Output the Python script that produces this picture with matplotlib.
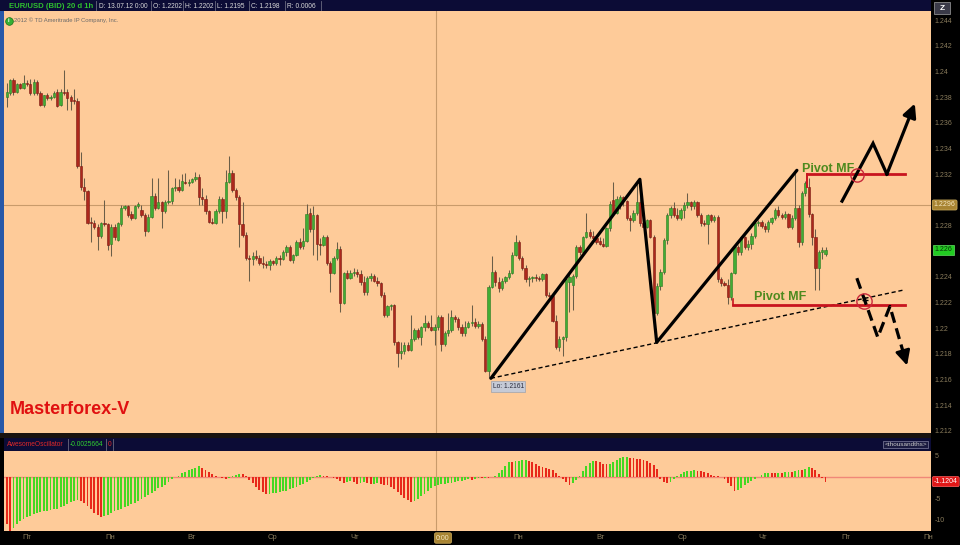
import matplotlib
matplotlib.use('Agg')
import matplotlib.pyplot as plt
import numpy as np
from matplotlib.patches import Rectangle
from matplotlib.lines import Line2D

plt.rcParams['font.family'] = ['Liberation Sans', 'DejaVu Sans']

# ---------------- data (EUR/USD 1h candles) ----------------
opens = [1.2380,1.2383,1.2393,1.2384,1.2390,1.2387,1.2391,1.2390,1.2383,1.2392,
         1.2383,1.2374,1.2382,1.2379,1.2380,1.2384,1.2374,1.2384,1.2384,1.2380,
         1.2378,1.2377,1.2326,1.2310,1.2307,1.2283,1.2282,1.2279,1.2272,1.2282,
         1.2281,1.2266,1.2279,1.2269,1.2281,1.2294,1.2295,1.2289,1.2286,1.2295,
         1.2292,1.2288,1.2276,1.2287,1.2303,1.2294,1.2298,1.2291,1.2298,1.2299,
         1.2309,1.2310,1.2308,1.2314,1.2313,1.2314,1.2316,1.2318,1.2302,1.2301,
         1.2291,1.2283,1.2282,1.2291,1.2301,1.2291,1.2314,1.2321,1.2308,1.2302,
         1.2281,1.2273,1.2255,1.2254,1.2256,1.2255,1.2251,1.2250,1.2249,1.2252,
         1.2251,1.2255,1.2254,1.2259,1.2263,1.2253,1.2257,1.2267,1.2264,1.2268,
         1.2290,1.2277,1.2288,1.2266,1.2265,1.2271,1.2251,1.2243,1.2255,1.2262,
         1.2220,1.2243,1.2239,1.2243,1.2244,1.2242,1.2236,1.2228,1.2239,1.2241,
         1.2237,1.2235,1.2226,1.2210,1.2217,1.2218,1.2189,1.2181,1.2182,1.2187,
         1.2183,1.2192,1.2199,1.2193,1.2201,1.2204,1.2201,1.2199,1.2201,1.2209,
         1.2188,1.2196,1.2199,1.2209,1.2207,1.2201,1.2196,1.2201,1.2204,1.2205,
         1.2202,1.2203,1.2192,1.2167,1.2232,1.2244,1.2236,1.2231,1.2237,1.2240,
         1.2243,1.2257,1.2267,1.2255,1.2247,1.2238,1.2239,1.2240,1.2239,1.2238,
         1.2242,1.2226,1.2225,1.2206,1.2185,1.2192,1.2193,1.2236,1.2234,1.2241,
         1.2263,1.2259,1.2271,1.2275,1.2272,1.2270,1.2268,1.2266,1.2264,1.2278,
         1.2300,1.2290,1.2296,1.2302,1.2299,1.2286,1.2284,1.2290,1.2298,1.2282,
         1.2279,1.2284,1.2271,1.2212,1.2233,1.2244,1.2269,1.2288,1.2294,1.2288,
         1.2286,1.2292,1.2296,1.2298,1.2295,1.2298,1.2288,1.2282,1.2281,1.2288,
         1.2284,1.2287,1.2238,1.2235,1.2234,1.2224,1.2243,1.2263,1.2259,1.2271,
         1.2263,1.2266,1.2272,1.2282,1.2283,1.2280,1.2277,1.2283,1.2286,1.2292,
         1.2288,1.2287,1.2289,1.2279,1.2286,1.2294,1.2267,1.2305,1.2310,1.2289,
         1.2271,1.2247,1.2259,1.2258]
highs = [1.2391,1.2394,1.2395,1.2391,1.2391,1.2397,1.2393,1.2394,1.2394,1.2393,
         1.2385,1.2382,1.2383,1.2382,1.2385,1.2386,1.2386,1.2401,1.2386,1.2382,
         1.2386,1.2379,1.2337,1.2317,1.2308,1.2287,1.2284,1.2281,1.2283,1.2300,
         1.2282,1.2281,1.2281,1.2283,1.2296,1.2296,1.2296,1.2291,1.2296,1.2298,
         1.2296,1.2290,1.2289,1.2317,1.2305,1.2317,1.2299,1.2300,1.2323,1.2310,
         1.2317,1.2316,1.2320,1.2321,1.2316,1.2317,1.2322,1.2320,1.2309,1.2304,
         1.2292,1.2286,1.2293,1.2303,1.2302,1.2323,1.2334,1.2323,1.2309,1.2304,
         1.2298,1.2275,1.2257,1.2259,1.2261,1.2257,1.2256,1.2252,1.2254,1.2253,
         1.2256,1.2257,1.2261,1.2265,1.2265,1.2258,1.2269,1.2270,1.2278,1.2297,
         1.2294,1.2295,1.2289,1.2270,1.2273,1.2273,1.2252,1.2256,1.2267,1.2264,
         1.2244,1.2245,1.2245,1.2247,1.2246,1.2245,1.2241,1.2241,1.2243,1.2242,
         1.2240,1.2236,1.2228,1.2218,1.2219,1.2219,1.2190,1.2189,1.2189,1.2189,
         1.2210,1.2200,1.2200,1.2202,1.2210,1.2206,1.2210,1.2203,1.2210,1.2210,
         1.2198,1.2212,1.2214,1.2210,1.2209,1.2203,1.2206,1.2206,1.2218,1.2208,
         1.2206,1.2205,1.2194,1.2234,1.2256,1.2245,1.2240,1.2239,1.2241,1.2245,
         1.2259,1.2273,1.2269,1.2256,1.2249,1.2241,1.2241,1.2242,1.2241,1.2243,
         1.2243,1.2228,1.2227,1.2210,1.2194,1.2194,1.2240,1.2243,1.2242,1.2265,
         1.2265,1.2272,1.2290,1.2277,1.2276,1.2272,1.2271,1.2270,1.2279,1.2299,
         1.2314,1.2303,1.2304,1.2303,1.2300,1.2288,1.2292,1.2315,1.2309,1.2285,
         1.2285,1.2285,1.2273,1.2235,1.2246,1.2270,1.2290,1.2295,1.2298,1.2294,
         1.2294,1.2298,1.2305,1.2299,1.2300,1.2299,1.2290,1.2284,1.2289,1.2289,
         1.2288,1.2288,1.2240,1.2237,1.2238,1.2244,1.2265,1.2265,1.2272,1.2272,
         1.2269,1.2274,1.2284,1.2284,1.2284,1.2282,1.2284,1.2287,1.2294,1.2295,
         1.2290,1.2291,1.2290,1.2288,1.2321,1.2296,1.2307,1.2315,1.2317,1.2290,
         1.2277,1.2261,1.2263,1.2263]
lows = [1.2372,1.2382,1.2382,1.2383,1.2386,1.2386,1.2389,1.2382,1.2382,1.2382,
        1.2373,1.2372,1.2378,1.2378,1.2379,1.2372,1.2373,1.2382,1.2370,1.2370,
        1.2375,1.2325,1.2308,1.2300,1.2281,1.2267,1.2277,1.2261,1.2270,1.2280,
        1.2261,1.2256,1.2269,1.2268,1.2280,1.2292,1.2287,1.2284,1.2285,1.2294,
        1.2287,1.2272,1.2275,1.2286,1.2292,1.2293,1.2278,1.2290,1.2297,1.2297,
        1.2307,1.2306,1.2307,1.2312,1.2311,1.2313,1.2315,1.2296,1.2296,1.2289,
        1.2282,1.2281,1.2281,1.2290,1.2282,1.2286,1.2313,1.2306,1.2300,1.2263,
        1.2271,1.2253,1.2237,1.2249,1.2253,1.2249,1.2247,1.2247,1.2245,1.2249,
        1.2249,1.2249,1.2253,1.2256,1.2252,1.2251,1.2256,1.2262,1.2262,1.2267,
        1.2275,1.2257,1.2253,1.2257,1.2264,1.2249,1.2228,1.2242,1.2253,1.2213,
        1.2219,1.2238,1.2238,1.2241,1.2240,1.2234,1.2226,1.2226,1.2237,1.2236,
        1.2233,1.2224,1.2209,1.2209,1.2214,1.2187,1.2170,1.2176,1.2180,1.2182,
        1.2182,1.2190,1.2192,1.2187,1.2198,1.2200,1.2198,1.2187,1.2199,1.2182,
        1.2186,1.2194,1.2197,1.2205,1.2199,1.2194,1.2194,1.2200,1.2202,1.2200,
        1.2200,1.2190,1.2166,1.2161,1.2231,1.2233,1.2228,1.2230,1.2235,1.2238,
        1.2242,1.2256,1.2253,1.2245,1.2236,1.2233,1.2236,1.2237,1.2237,1.2237,
        1.2224,1.2224,1.2205,1.2184,1.2182,1.2178,1.2190,1.2213,1.2214,1.2239,
        1.2257,1.2257,1.2270,1.2270,1.2269,1.2266,1.2265,1.2263,1.2263,1.2276,
        1.2288,1.2289,1.2293,1.2295,1.2284,1.2276,1.2283,1.2288,1.2280,1.2278,
        1.2278,1.2270,1.2210,1.2210,1.2230,1.2242,1.2266,1.2286,1.2287,1.2284,
        1.2284,1.2286,1.2294,1.2292,1.2293,1.2287,1.2280,1.2280,1.2266,1.2283,
        1.2283,1.2236,1.2233,1.2233,1.2219,1.2222,1.2242,1.2257,1.2257,1.2262,
        1.2261,1.2262,1.2270,1.2280,1.2278,1.2275,1.2275,1.2281,1.2284,1.2287,
        1.2285,1.2285,1.2278,1.2277,1.2284,1.2263,1.2265,1.2303,1.2287,1.2265,
        1.2230,1.2230,1.2254,1.2256]
closes = [1.2384,1.2393,1.2384,1.2390,1.2387,1.2391,1.2390,1.2383,1.2392,1.2383,
          1.2374,1.2382,1.2379,1.2380,1.2383,1.2373,1.2384,1.2383,1.2379,1.2377,
          1.2377,1.2326,1.2310,1.2307,1.2282,1.2282,1.2279,1.2272,1.2282,1.2281,
          1.2265,1.2279,1.2271,1.2282,1.2294,1.2295,1.2288,1.2286,1.2295,1.2297,
          1.2288,1.2276,1.2287,1.2303,1.2294,1.2298,1.2291,1.2298,1.2299,1.2309,
          1.2310,1.2308,1.2315,1.2313,1.2314,1.2316,1.2318,1.2302,1.2301,1.2291,
          1.2283,1.2282,1.2291,1.2301,1.2291,1.2314,1.2321,1.2308,1.2302,1.2281,
          1.2273,1.2255,1.2254,1.2256,1.2255,1.2251,1.2250,1.2249,1.2252,1.2251,
          1.2255,1.2254,1.2259,1.2263,1.2253,1.2257,1.2267,1.2263,1.2268,1.2289,
          1.2277,1.2288,1.2266,1.2265,1.2271,1.2251,1.2243,1.2255,1.2262,1.2220,
          1.2243,1.2239,1.2243,1.2244,1.2242,1.2236,1.2228,1.2239,1.2241,1.2237,
          1.2235,1.2226,1.2210,1.2217,1.2218,1.2189,1.2181,1.2182,1.2187,1.2183,
          1.2192,1.2199,1.2193,1.2201,1.2204,1.2201,1.2199,1.2201,1.2209,1.2188,
          1.2196,1.2199,1.2209,1.2207,1.2201,1.2196,1.2201,1.2204,1.2205,1.2202,
          1.2203,1.2192,1.2167,1.2232,1.2244,1.2236,1.2231,1.2237,1.2240,1.2243,
          1.2257,1.2267,1.2255,1.2247,1.2238,1.2239,1.2240,1.2239,1.2238,1.2242,
          1.2226,1.2225,1.2206,1.2185,1.2192,1.2193,1.2238,1.2240,1.2241,1.2263,
          1.2259,1.2271,1.2275,1.2272,1.2270,1.2267,1.2266,1.2264,1.2278,1.2297,
          1.2290,1.2301,1.2302,1.2299,1.2286,1.2284,1.2290,1.2298,1.2282,1.2279,
          1.2284,1.2271,1.2212,1.2233,1.2244,1.2269,1.2288,1.2294,1.2288,1.2286,
          1.2292,1.2296,1.2298,1.2295,1.2298,1.2288,1.2282,1.2281,1.2288,1.2284,
          1.2287,1.2238,1.2235,1.2234,1.2224,1.2243,1.2263,1.2259,1.2271,1.2263,
          1.2266,1.2272,1.2282,1.2283,1.2280,1.2277,1.2283,1.2286,1.2292,1.2288,
          1.2287,1.2289,1.2279,1.2286,1.2294,1.2267,1.2305,1.2313,1.2289,1.2271,
          1.2247,1.2259,1.2261,1.2261]

# Awesome Oscillator (thousandths)
ao_values = [-11.0,-12.5,-11.8,-11.0,-10.3,-9.8,-9.4,-9.0,-8.7,-8.4,
             -8.2,-8.0,-7.9,-7.8,-7.6,-7.4,-7.1,-6.7,-6.3,-5.9,
             -5.6,-5.3,-5.6,-6.1,-6.8,-7.5,-8.3,-8.9,-9.3,-9.1,
             -8.8,-8.4,-8.0,-7.7,-7.4,-7.1,-6.8,-6.4,-6.0,-5.6,
             -5.2,-4.7,-4.2,-3.7,-3.2,-2.7,-2.3,-1.8,-1.2,-0.6,
             -0.1,0.3,0.8,1.2,1.5,1.8,2.1,2.4,2.0,1.5,
             1.1,0.6,0.2,-0.1,-0.3,-0.4,-0.2,0.2,0.5,0.7,
             0.6,0.1,-0.7,-1.5,-2.4,-3.1,-3.6,-4.1,-3.9,-3.8,
             -3.7,-3.6,-3.4,-3.2,-2.9,-2.6,-2.3,-2.0,-1.6,-1.2,
             -0.8,-0.3,0.1,0.4,0.2,0.1,-0.1,-0.3,-0.6,-1.0,
             -1.4,-1.2,-1.0,-1.3,-1.6,-1.4,-1.3,-1.5,-1.7,-1.6,
             -1.5,-1.6,-1.8,-2.0,-2.4,-2.9,-3.6,-4.3,-4.9,-5.5,
             -5.8,-5.6,-5.1,-4.5,-3.9,-3.3,-2.7,-2.2,-1.9,-1.7,
             -1.6,-1.5,-1.4,-1.2,-1.0,-0.9,-0.7,-0.6,-0.7,-0.5,
             -0.3,-0.3,-0.2,-0.3,-0.1,0.3,0.8,1.6,2.6,3.5,
             3.4,3.6,3.7,3.8,3.9,3.7,3.4,2.9,2.5,2.2,
             2.0,1.8,1.5,1.0,0.2,-0.6,-1.3,-2.0,-1.5,-0.8,
             0.2,1.3,2.4,3.3,3.7,3.6,3.4,3.0,2.9,3.0,
             3.4,3.8,4.3,4.6,4.7,4.4,4.3,4.2,4.1,4.0,
             3.7,3.3,2.8,1.9,-0.6,-1.1,-1.5,-1.2,-0.6,0.1,
             0.7,1.1,1.3,1.4,1.5,1.4,1.3,1.1,0.8,0.5,
             0.3,0.1,-0.1,-0.6,-1.4,-2.2,-3.3,-3.1,-2.6,-2.0,
             -1.5,-1.0,-0.5,0.0,0.4,0.8,1.0,0.9,0.8,1.0,
             1.0,1.1,1.2,1.1,1.3,1.6,1.5,1.9,2.2,2.0,
             1.5,0.6,-0.3,-1.12]

price_ticks = [1.244, 1.242, 1.240, 1.238, 1.236, 1.234, 1.232, 1.228,
               1.224, 1.222, 1.220, 1.218, 1.216, 1.214, 1.212]
price_tick_labels = ['1.244', '1.242', '1.24', '1.238', '1.236', '1.234', '1.232', '1.228',
                     '1.224', '1.222', '1.22', '1.218', '1.216', '1.214', '1.212']
ao_ticks = [5, -5, -10]
ao_tick_labels = ['5', '-5', '-10']
day_labels = ['Пт', 'Пн', 'Вт', 'Ср', 'Чт', 'Пн', 'Вт', 'Ср', 'Чт', 'Пт', 'Пн']
day_positions = [6.0, 30.7, 55.0, 79.0, 103.4, 151.7, 176.1, 200.7, 224.4, 249.1, 273.4]

crosshair_bar = 127.4
crosshair_price = 1.2296
last_price = 1.2261
last_ao = -1.1204
low_bar, low_price = 143.7, 1.2161
pivot_upper = 1.2320
pivot_lower = 1.2218
swing_x = [143.7, 187.9, 192.9, 234.5]
swing_y = [1.2161, 1.2316, 1.2189, 1.2323]
trend_x = [143.7, 266.6]
trend_y = [1.2161, 1.2230]
up_x = [247.9, 257.1, 261.2, 269.5]
up_y = [1.2299, 1.2344, 1.2320, 1.2375]
dn_x = [252.3, 258.5, 262.1, 267.2]
dn_y = [1.2239, 1.2193, 1.2217, 1.2171]

# ---------------- figure ----------------
W, H = 960, 545
fig = plt.figure(figsize=(W / 100, H / 100), dpi=100, facecolor='black')


def fx(px):
    return px / W


def fy(py):
    return 1 - py / H


def frect(x0, y0, x1, y1, **kw):
    fig.add_artist(Rectangle((fx(x0), fy(y1)), fx(x1) - fx(x0), fy(y0) - fy(y1),
                             transform=fig.transFigure, **kw))


PEACH = '#fecb99'
NAVY = '#0c0c36'
TAN = '#8a7c5c'

# top header
frect(0, 0, 931, 11, fc=NAVY, ec='none')
fig.text(fx(9), fy(6), 'EUR/USD (BID) 20 d 1h', color='#2fbf2f', fontsize=5.6,
         weight='bold', va='center', ha='left')
for xl, t in [(99, 'D: 13.07.12 0:00'), (153, 'O: 1.2202'), (185, 'H: 1.2202'),
              (217, 'L: 1.2195'), (251, 'C: 1.2198'), (287, 'R: 0.0006')]:
    fig.text(fx(xl), fy(6), t, color='#d8d8d8', fontsize=4.8, va='center', ha='left')
for xs in [96, 151, 183, 215, 249, 285, 321]:
    fig.add_artist(Line2D([fx(xs), fx(xs)], [fy(1), fy(10)], transform=fig.transFigure,
                          color='#6a6a80', lw=0.6))
frect(934, 2, 950, 14, fc='#3a3a48', ec='#a0a0a0', lw=0.5)
fig.text(fx(942), fy(8), 'Z', color='white', fontsize=6, weight='bold', ha='center', va='center')

# left blue border and separators
frect(0, 11, 4, 433, fc='#2858a8', ec='none')
frect(0, 433, 931, 438, fc='#1a1410', ec='none')
frect(4, 438, 931, 451, fc=NAVY, ec='none')

# ---------------- main price panel ----------------
ax = fig.add_axes([fx(4), fy(433), fx(931) - fx(4), fy(11) - fy(433)])
ax.set_facecolor(PEACH)
N = min(len(opens), len(highs), len(lows), len(closes))
x = np.arange(N)
o = np.array(opens[:N]); h = np.array(highs[:N]); l = np.array(lows[:N]); c = np.array(closes[:N])

ax.vlines(x, l, h, color='#6a5e48', lw=0.75, zorder=2)
body_lo = np.minimum(o, c)
body_h = np.abs(c - o)
is_doji = body_h < 0.00005
body_h = np.where(is_doji, 0.00004, body_h)
fcols = np.where(c > o, '#41ad34', '#ad281c')
ecols = np.where(c > o, '#2a7a22', '#781810')
fcols = np.where(is_doji, '#3c3020', fcols)
ecols = np.where(is_doji, '#3c3020', ecols)
ax.bar(x, body_h, bottom=body_lo, width=0.68, color=fcols, edgecolor=ecols, lw=0.4, zorder=3)

ax.set_xlim(-0.8, 274.3)
ax.set_ylim(1.21184, 1.24471)

# crosshair
ax.axvline(crosshair_bar, color='#c99b6b', lw=0.8, zorder=1)
ax.axhline(crosshair_price, color='#c99b6b', lw=0.8, zorder=1)

# drawings
ax.plot(swing_x, swing_y, color='black', lw=2.3, zorder=6, solid_capstyle='round')
ax.plot(trend_x, trend_y, color='black', lw=1.0, dashes=(3, 2), zorder=6)
ax.plot([237.5, 266.6], [pivot_upper, pivot_upper], color='#c8141e', lw=2.0, zorder=6)
ax.plot([237.5, 237.5], [pivot_upper, 1.2310], color='#c8141e', lw=1.4, zorder=6)
ax.plot([215.5, 266.6], [pivot_lower, pivot_lower], color='#c8141e', lw=2.0, zorder=6)
ax.plot([215.5, 215.5], [pivot_lower, 1.2223], color='#c8141e', lw=1.2, zorder=6)
ax.text(243.7, 1.2324, 'Pivot MF', ha='center', va='center', color='#4d8a1e',
        fontsize=9, weight='bold', zorder=7)
ax.text(229.5, 1.2224, 'Pivot MF', ha='center', va='center', color='#4d8a1e',
        fontsize=9, weight='bold', zorder=7)

# upper zigzag arrow
ax.plot(up_x[:3], up_y[:3], color='black', lw=2.3, zorder=8, solid_joinstyle='miter')
ax.annotate('', xy=(up_x[3], up_y[3]), xytext=(up_x[2], up_y[2]),
            arrowprops=dict(arrowstyle='-|>', color='black', lw=2.3,
                            mutation_scale=20, shrinkA=0, shrinkB=0), zorder=8)
# lower dashed zigzag arrow
fx3 = dn_x[2] + 0.8 * (dn_x[3] - dn_x[2])
fy3 = dn_y[2] + 0.8 * (dn_y[3] - dn_y[2])
ax.plot(dn_x[:3] + [fx3], dn_y[:3] + [fy3], color='black', lw=2.3, dashes=(3.5, 1.8), zorder=8)
ax.annotate('', xy=(dn_x[3], dn_y[3]), xytext=(fx3, fy3),
            arrowprops=dict(arrowstyle='-|>', color='black', lw=2.0,
                            mutation_scale=22, shrinkA=0, shrinkB=0), zorder=8)

# circles
ax.plot([252.3], [1.2319], 'o', ms=9.5, mfc='none', mec='#c8283a', mew=1.0, zorder=9)
ax.plot([254.4], [1.2221], 'o', ms=11, mfc='none', mec='#c8283a', mew=1.0, zorder=9)
ax.plot([254.6], [1.2222], marker='+', ms=5, color='black', mew=1.0, zorder=9)

# low label
ax.text(144.2, 1.21545, 'Lo: 1.2161', fontsize=4.8, color='#2a2a3a', va='center', ha='left',
        zorder=9, bbox=dict(boxstyle='square,pad=0.25', fc='#c5cad6', ec='#9098a8', lw=0.4))

for s in ax.spines.values():
    s.set_visible(False)
ax.set_xticks([])
ax.yaxis.tick_right()
ax.set_yticks(price_ticks)
ax.set_yticklabels(price_tick_labels)
ax.tick_params(axis='y', length=0, pad=2.5, labelsize=5, labelcolor=TAN)

ytr = ax.get_yaxis_transform()
ax.text(1.003, crosshair_price, '1.2296', transform=ytr, ha='left', va='center', fontsize=5,
        color='#f5e6c0', clip_on=False,
        bbox=dict(boxstyle='round,pad=0.22', fc='#a88432', ec='#d0b060', lw=0.5))
ax.text(1.004, last_price, '1.226', transform=ytr, ha='left', va='center', fontsize=5,
        color='#0a300a', clip_on=False,
        bbox=dict(boxstyle='square,pad=0.22', fc='#22cc22', ec='#60e060', lw=0.5))

# copyright line
ax.plot([0.005], [0.977], 'o', transform=ax.transAxes, ms=5.5, color='#34b034', mec='#147014',
        mew=0.5, zorder=9, clip_on=False)
ax.text(0.005, 0.977, 'i', transform=ax.transAxes, fontsize=4, color='white', weight='bold',
        ha='center', va='center', zorder=10)
fig.text(fx(14), fy(20), '2012 \u00a9 TD Ameritrade IP Company, Inc.', color='#6a6a6a',
         fontsize=4.2, va='center', ha='left')

fig.text(fx(10), fy(409), 'Masterforex-V', color='#e01010', fontsize=13, weight='bold',
         va='center', ha='left')

# ---------------- oscillator panel ----------------
osc = fig.add_axes([fx(4), fy(531), fx(931) - fx(4), fy(451) - fy(531)])
osc.set_facecolor(PEACH)
ao = np.array(ao_values[:N])
acol = ['#e8281a'] + ['#44d822' if ao[i] > ao[i - 1] else '#e8281a' for i in range(1, len(ao))]
osc.axhline(0, color='#f08878', lw=1.0, zorder=1)
osc.bar(np.arange(len(ao)), ao, width=0.55, color=acol, lw=0, zorder=2)
osc.axvline(crosshair_bar, color='#c99b6b', lw=0.8, zorder=3)
osc.set_xlim(-0.8, 274.3)
osc.set_ylim(-12.6, 6.0)
for s in osc.spines.values():
    s.set_visible(False)
osc.yaxis.tick_right()
osc.set_yticks(ao_ticks)
osc.set_yticklabels(ao_tick_labels)
osc.tick_params(axis='y', length=0, pad=2.5, labelsize=5, labelcolor=TAN)
osc.set_xticks(day_positions)
osc.set_xticklabels(day_labels)
osc.tick_params(axis='x', length=0, pad=2.5, labelsize=5.5, labelcolor=TAN)
osc.text(1.003, last_ao, '-1.1204', transform=osc.get_yaxis_transform(), ha='left', va='center',
         fontsize=5, color='white', clip_on=False,
         bbox=dict(boxstyle='round,pad=0.22', fc='#e01818', ec='#ff6060', lw=0.5))

# oscillator header texts
fig.text(fx(7), fy(444.5), 'AwesomeOscillator', color='#e02828', fontsize=4.8, va='center')
fig.text(fx(70), fy(444.5), '-0.0025664', color='#30d030', fontsize=4.8, va='center')
fig.text(fx(108), fy(444.5), '0', color='#e02828', fontsize=4.8, va='center')
for xs in [68, 106, 113]:
    fig.add_artist(Line2D([fx(xs), fx(xs)], [fy(439), fy(450)], transform=fig.transFigure,
                          color='#6a6a80', lw=0.6))
fig.text(fx(927), fy(444.5), '<thousandths>', color='#c8c8c8', fontsize=4.6, va='center',
         ha='right', bbox=dict(boxstyle='square,pad=0.2', fc='#1a1a40', ec='#8080a0', lw=0.5))

fig.text(fx(443), fy(538), '0:00', ha='center', va='center', fontsize=5, color='#f5e6c0',
         bbox=dict(boxstyle='round,pad=0.25', fc='#a88432', ec='#d0b060', lw=0.5))

fig.savefig('out.png', dpi=100, facecolor='black')
